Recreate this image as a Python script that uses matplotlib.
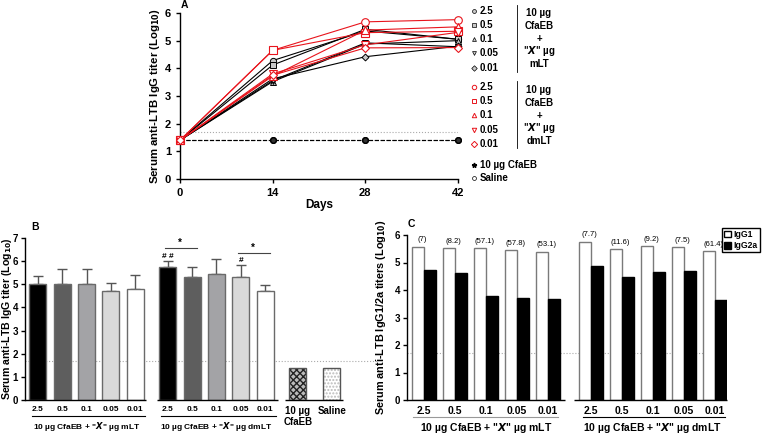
import numpy as np
import matplotlib
matplotlib.use("Agg")
import matplotlib.pyplot as plt
from matplotlib.patches import Patch

plt.rcParams["font.family"] = ["Liberation Sans", "DejaVu Sans"]
plt.rcParams["font.weight"] = "bold"
plt.rcParams["axes.linewidth"] = 1.0

# ---- panel A data ----
days = [0, 14, 28, 42]
doses = ["2.5", "0.5", "0.1", "0.05", "0.01"]
mlt_lines = [
    [1.4, 4.28, 5.35, 5.05],
    [1.4, 4.12, 5.41, 5.05],
    [1.4, 3.52, 4.88, 5.00],
    [1.4, 3.56, 4.92, 4.78],
    [1.4, 3.62, 4.42, 4.80],
]
dmlt_lines = [
    [1.4, 4.65, 5.68, 5.76],
    [1.4, 4.65, 5.29, 5.34],
    [1.4, 3.72, 5.38, 5.50],
    [1.4, 3.80, 4.85, 5.30],
    [1.4, 3.75, 4.74, 4.75],
]
cfaeb_line = [1.4, 1.4, 1.4, 1.4]
saline_line = [1.4, 1.4, 1.4, 1.4]
cutoff = 1.7
markers = ["o", "s", "^", "v", "D"]

# ---- panel B data ----
b_mlt = [5.00, 5.02, 5.03, 4.72, 4.81]
b_mlt_err = [0.34, 0.66, 0.62, 0.35, 0.57]
b_dmlt = [5.75, 5.31, 5.45, 5.31, 4.73]
b_dmlt_err = [0.27, 0.42, 0.64, 0.52, 0.24]
b_ctrl = [1.4, 1.4]
b_ctrl_labels = ["10 \u00b5g\nCfaEB", "Saline"]
b_colors = ["#000000", "#5e5e5e", "#a3a3a6", "#d9d9d9", "#ffffff"]

# ---- panel C data ----
c_mlt_igg1 = [5.58, 5.53, 5.52, 5.46, 5.39]
c_mlt_igg2a = [4.74, 4.61, 3.78, 3.70, 3.66]
c_dmlt_igg1 = [5.76, 5.49, 5.60, 5.55, 5.41]
c_dmlt_igg2a = [4.87, 4.46, 4.64, 4.69, 3.64]
c_mlt_ratio = ["(7)", "(8.2)", "(57.1)", "(57.8)", "(53.1)"]
c_dmlt_ratio = ["(7.7)", "(11.6)", "(9.2)", "(7.5)", "(61.4)"]

W, H = 771, 434
fig = plt.figure(figsize=(W / 100, H / 100), dpi=100)


def box(l, t, r, b):
    return [l / W, 1 - b / H, (r - l) / W, (b - t) / H]


# overlay axes in pixel coords for legend / letters
ov = fig.add_axes([0, 0, 1, 1], zorder=5)
ov.set_xlim(0, W)
ov.set_ylim(H, 0)
ov.axis("off")

# ================= A =================
axA = fig.add_axes(box(180, 13, 458, 179))
for i, y in enumerate(mlt_lines):
    axA.plot(days, y, color="black", lw=0.8, marker=markers[i], ms=4.5 if i != 4 else 3.5,
             mfc="#c8c8c8", mec="black", mew=0.7, clip_on=False, zorder=3)
for i, y in enumerate(dmlt_lines):
    axA.plot(days, y, color="#e8141c", lw=0.8, marker=markers[i], ms=5.5 if i != 4 else 4,
             mfc="white", mec="#e8141c", mew=0.8, clip_on=False, zorder=3)
axA.plot(days, saline_line, color="black", lw=0.8, ls="--", marker="o", ms=4,
         mfc="white", mec="black", clip_on=False, zorder=2)
axA.plot(days, cfaeb_line, color="black", lw=0.8, ls="--", marker="o", ms=4,
         mfc="#333333", mec="black", clip_on=False, zorder=2)
axA.axhline(cutoff, color="#aaaaaa", lw=0.8, ls=":", zorder=1)
axA.set_xlim(0, 42)
axA.set_ylim(0, 6)
axA.set_xticks(days)
axA.set_yticks(range(7))
axA.tick_params(labelsize=8, length=3, width=1)
axA.spines[["top", "right"]].set_visible(False)
axA.set_xlabel("Days", fontsize=8.5, fontweight="bold", labelpad=1)
axA.set_ylabel("Serum anti-LTB IgG titer (Log$_{10}$)", fontsize=8.2, fontweight="bold")
axA.yaxis.set_label_coords(-0.065, 0.5)
ov.text(181, 5, "A", fontsize=7.5, fontweight="bold", va="center")

# legend for A
rows1 = [11, 25, 39, 53, 68]
rows2 = [87, 101, 115, 130, 144]
for i in range(5):
    ov.plot(474, rows1[i], marker=markers[i], ms=2.8, mfc="#c8c8c8", mec="black", mew=0.5, ls="none")
    ov.text(480, rows1[i], doses[i], fontsize=7, va="center")
    ov.plot(474, rows2[i], marker=markers[i], ms=3.2, mfc="white", mec="#e8141c", mew=0.7, ls="none")
    ov.text(480, rows2[i], doses[i], fontsize=7, va="center")
ov.plot([517, 517], [5, 72], color="black", lw=0.6)
ov.plot([517, 517], [81, 148], color="black", lw=0.6)
for y0, last in [(13, "mLT"), (90, "dmLT")]:
    for k, s in enumerate(["10 \u00b5g", "CfaEB", "+", "\"$\\mathbfit{X}$\" \u00b5g", last]):
        ov.text(539, y0 + k * 12.8, s, fontsize=7, ha="center", va="center")
ov.plot(474, 165, marker="*", ms=3.5, color="black", ls="none")
ov.text(480, 165, "10 \u00b5g CfaEB", fontsize=7, va="center")
ov.plot(474, 178, marker="o", ms=2.8, mfc="white", mec="black", mew=0.5, ls="none")
ov.text(480, 178, "Saline", fontsize=7, va="center")

# ================= B =================
axB = fig.add_axes(box(25, 238, 378, 400))
x1 = np.arange(5)
x2 = np.arange(5) + 5.35
x3 = np.array([10.7, 12.1])
bw = 0.7
axB.bar(x1, b_mlt, bw, color=b_colors, edgecolor="#6a6a6a", lw=1, zorder=2)
axB.bar(x2, b_dmlt, bw, color=b_colors, edgecolor="#6a6a6a", lw=1, zorder=2)
axB.errorbar(x1, b_mlt, yerr=[np.zeros(5), b_mlt_err], fmt="none", ecolor="#555555",
             elinewidth=1, capsize=3.5, capthick=1, zorder=1)
axB.errorbar(x2, b_dmlt, yerr=[np.zeros(5), b_dmlt_err], fmt="none", ecolor="#555555",
             elinewidth=1, capsize=3.5, capthick=1, zorder=1)
axB.bar(x3[0], b_ctrl[0], bw, color="#bbbbbb", edgecolor="#222222", hatch="xxxxx", lw=0, zorder=2)
axB.bar(x3[1], b_ctrl[1], bw, color="white", edgecolor="#bbbbbb", hatch=".....", lw=0, zorder=2)
axB.bar(x3, b_ctrl, bw, fill=False, edgecolor="#555555", lw=1, zorder=3)
axB.axhline(cutoff, color="#aaaaaa", lw=0.8, ls=":", zorder=0)
axB.set_xlim(-0.535, 14.0)
axB.set_ylim(0, 7)
axB.set_yticks(range(8))
axB.set_xticks(np.concatenate([x1, x2, x3]))
axB.set_xticklabels(doses + doses + b_ctrl_labels)
axB.tick_params(axis="y", labelsize=7, length=3, width=1, pad=2)
axB.tick_params(axis="x", labelsize=6, length=0, pad=4)
for t in axB.get_xticklabels()[10:]:
    t.set_fontsize(7)
axB.spines[["top", "right", "bottom"]].set_visible(False)
axB.hlines(0, -0.535, 4.45, color="black", lw=1, clip_on=False)
axB.hlines(0, 4.9, 9.88, color="black", lw=1, clip_on=False)
axB.hlines(0, 10.16, 12.55, color="black", lw=1, clip_on=False)
tr = axB.get_xaxis_transform()
axB.plot([-0.25, 4.4], [-0.1, -0.1], color="black", lw=0.8, transform=tr, clip_on=False)
axB.plot([5.05, 9.8], [-0.1, -0.1], color="black", lw=0.8, transform=tr, clip_on=False)
axB.text(2, -0.125, "10 \u00b5g CfaEB + \"$\\mathbfit{X}$\" \u00b5g mLT", transform=tr,
         ha="center", va="top", fontsize=6)
axB.text(7.35, -0.125, "10 \u00b5g CfaEB + \"$\\mathbfit{X}$\" \u00b5g dmLT", transform=tr,
         ha="center", va="top", fontsize=6)
axB.set_ylabel("Serum anti-LTB IgG titer (Log$_{10}$)", fontsize=7.6, fontweight="bold")
axB.yaxis.set_label_coords(-0.032, 0.5)
# significance marks
axB.plot([x2[0] - 0.1, x2[1] + 0.2], [6.55, 6.55], color="#444444", lw=0.8)
axB.text((x2[0] + x2[1]) / 2, 6.58, "*", ha="center", va="bottom", fontsize=7)
axB.plot([x2[3] - 0.1, x2[4] + 0.2], [6.35, 6.35], color="#444444", lw=0.8)
axB.text((x2[3] + x2[4]) / 2, 6.38, "*", ha="center", va="bottom", fontsize=7)
axB.text(x2[0], b_dmlt[0] + b_dmlt_err[0] + 0.05, "# #", ha="center", va="bottom", fontsize=6)
axB.text(x2[3], b_dmlt[3] + b_dmlt_err[3] + 0.05, "#", ha="center", va="bottom", fontsize=6)
ov.text(31, 227, "B", fontsize=7.5, fontweight="bold", va="center")

# ================= C =================
axC = fig.add_axes(box(407, 235, 727, 400))
p1 = np.arange(5)
p2 = np.arange(5) + 5.4
cw = 0.39
axC.bar(p1 - cw / 2, c_mlt_igg1, cw, color="white", edgecolor="#7a7a7a", lw=1, label="IgG1")
axC.bar(p1 + cw / 2, c_mlt_igg2a, cw, color="black", edgecolor="black", lw=1, label="IgG2a")
axC.bar(p2 - cw / 2, c_dmlt_igg1, cw, color="white", edgecolor="#7a7a7a", lw=1)
axC.bar(p2 + cw / 2, c_dmlt_igg2a, cw, color="black", edgecolor="black", lw=1)
axC.axhline(cutoff, color="#aaaaaa", lw=0.8, ls=":", zorder=0)
axC.set_xlim(-0.55, 9.8)
axC.set_ylim(0, 6)
axC.set_yticks(range(7))
axC.set_xticks(np.concatenate([p1, p2]))
axC.set_xticklabels(doses + doses)
axC.tick_params(axis="y", labelsize=7, length=3, width=1, pad=2)
axC.tick_params(axis="x", labelsize=7.5, length=0, pad=4)
axC.spines[["top", "right", "bottom"]].set_visible(False)
axC.hlines(0, -0.55, 4.55, color="black", lw=1, clip_on=False)
axC.hlines(0, 4.85, 9.8, color="black", lw=1, clip_on=False)
trc = axC.get_xaxis_transform()
axC.plot([-0.35, 4.35], [-0.1, -0.1], color="#999999", lw=0.8, transform=trc, clip_on=False)
axC.plot([5.15, 9.75], [-0.1, -0.1], color="black", lw=0.8, transform=trc, clip_on=False)
axC.text(2, -0.125, "10 \u00b5g CfaEB + \"$\\mathbfit{X}$\" \u00b5g mLT", transform=trc,
         ha="center", va="top", fontsize=7.5)
axC.text(7.4, -0.125, "10 \u00b5g CfaEB + \"$\\mathbfit{X}$\" \u00b5g dmLT", transform=trc,
         ha="center", va="top", fontsize=7.5)
axC.set_ylabel("Serum anti-LTB IgG1/2a titers (Log$_{10}$)", fontsize=7.8, fontweight="bold")
axC.yaxis.set_label_coords(-0.059, 0.5)
leg = axC.legend(handles=[Patch(facecolor="white", edgecolor="black", label="IgG1"),
                          Patch(facecolor="black", edgecolor="black", label="IgG2a")],
                 loc="upper left", bbox_to_anchor=(722 / W, 1 - 228 / H), bbox_transform=fig.transFigure,
                 fontsize=6.2, frameon=True, fancybox=False, edgecolor="black", borderpad=0.25,
                 handlelength=0.8, handleheight=0.8, handletextpad=0.3, labelspacing=0.25,
                 borderaxespad=0, framealpha=1)
# ratio labels go on the overlay so they sit above the legend
for x, y, s in zip(np.concatenate([p1, p2]), c_mlt_igg1 + c_dmlt_igg1, c_mlt_ratio + c_dmlt_ratio):
    px, py = axC.transData.transform((x - 0.05, y + 0.12))
    ox, oy = ov.transData.inverted().transform((px, py))
    ov.text(ox, oy, s, ha="center", va="bottom", fontsize=5.5, fontweight="normal")
ov.text(408, 224, "C", fontsize=7.5, fontweight="bold", va="center")

fig.savefig("out.png", dpi=100)
